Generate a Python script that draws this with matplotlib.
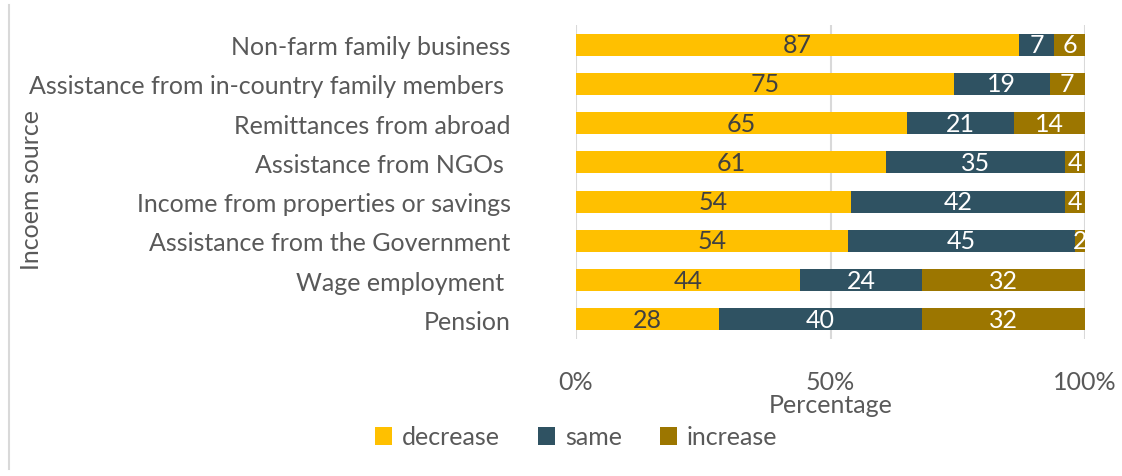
import numpy as np
import matplotlib.pyplot as plt
from matplotlib.patches import Patch
from matplotlib.lines import Line2D
from matplotlib.ticker import FuncFormatter

plt.rcParams['font.family'] = ['Lato', 'DejaVu Sans']

sources = ['Non-farm family business', 'Assistance from in-country family members ',
           'Remittances from abroad', 'Assistance from NGOs ',
           'Income from properties or savings', 'Assistance from the Government',
           'Wage employment ', 'Pension']
decrease = [87, 75, 65, 61, 54, 54, 44, 28]
same = [7, 19, 21, 35, 42, 45, 24, 40]
increase = [6, 7, 14, 4, 4, 2, 32, 32]

series = [('decrease', decrease, '#FFC000', '#404040'),
          ('same', same, '#2F5262', 'white'),
          ('increase', increase, '#9C7600', 'white')]

grey = '#595959'
fs = 18
fig = plt.figure(figsize=(11.22, 4.77), dpi=100)
ax = fig.add_axes([576 / 1122, 1 - 340 / 477, 509 / 1122, 314 / 477])

totals = np.array(decrease) + np.array(same) + np.array(increase)
y = np.arange(len(sources))
left = np.zeros(len(sources))
for name, vals, color, tcol in series:
    share = np.array(vals) / totals
    ax.barh(y, share, left=left, height=0.56, color=color, label=name, zorder=3)
    for yi, l, w, v in zip(y, left, share, vals):
        ax.text(l + w / 2, yi, str(v), ha='center', va='center', color=tcol,
                fontsize=fs, zorder=4, clip_on=True)
    left += share

ax.set_xlim(0, 1)
ax.set_ylim(len(sources) - 0.5, -0.5)
ax.set_yticks(y)
ax.set_yticklabels(sources, fontsize=fs, color=grey)
ax.set_xticks([0, 0.5, 1])
ax.xaxis.set_major_formatter(FuncFormatter(lambda v, _: f'{int(round(v * 100))}%'))
ax.tick_params(axis='x', labelsize=fs, labelcolor=grey, length=0, pad=22)
ax.tick_params(axis='y', length=0, pad=47)
ax.grid(axis='x', color='#D9D9D9', linewidth=1.5, zorder=0)
for s in ax.spines.values():
    s.set_visible(False)
ax.set_xlabel('Percentage', fontsize=fs, color=grey, labelpad=0)
fig.text(32 / 1122, 1 - 190 / 477, 'Incoem source', rotation=90, ha='center',
         va='center', fontsize=fs, color=grey)

handles = [Patch(facecolor=c, label=n) for n, _, c, _ in series]
leg = fig.legend(handles=handles, loc='center', bbox_to_anchor=(576 / 1122, 1 - 438 / 477),
                 ncol=3, frameon=False, fontsize=fs, handlelength=0.7, handleheight=0.7,
                 handletextpad=0.4, columnspacing=1.5)
for t in leg.get_texts():
    t.set_color(grey)

fig.add_artist(Line2D([9 / 1122, 9 / 1122], [1 - 470 / 477, 1 - 6 / 477],
                      color='#D9D9D9', linewidth=1.5))

fig.savefig('out.png', dpi=100)
